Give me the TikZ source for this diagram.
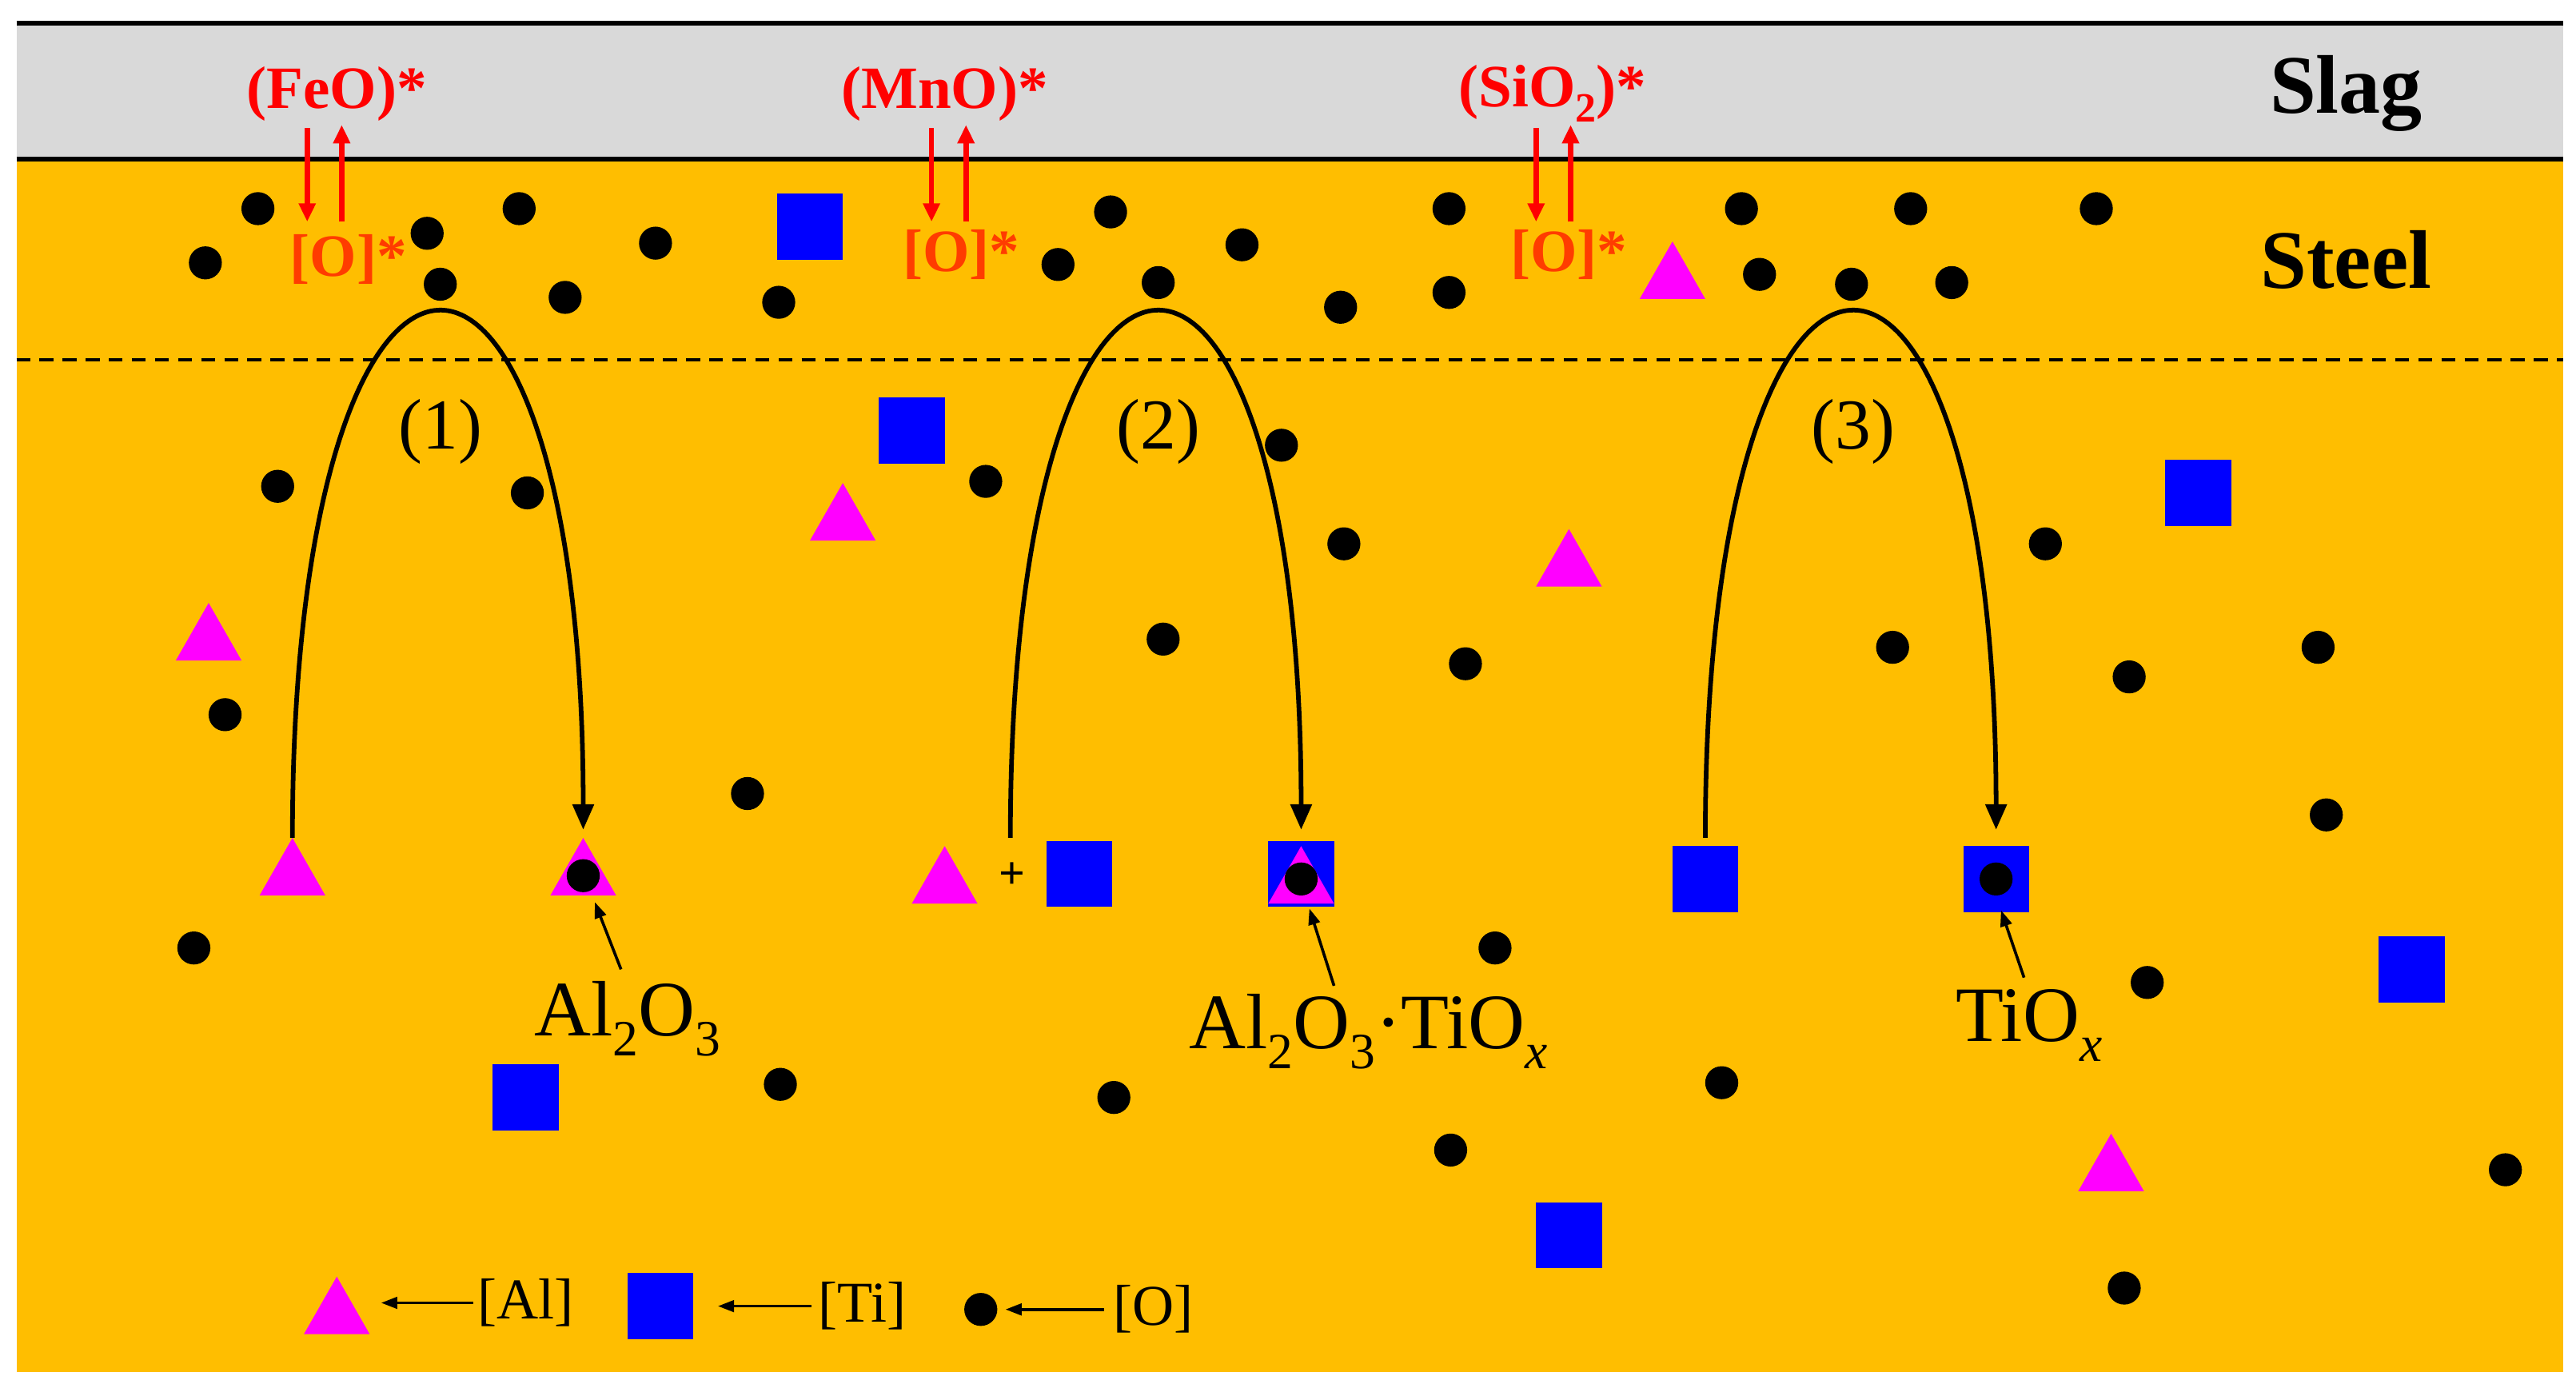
\documentclass[tikz,border=0pt]{standalone}
\usepackage{fontspec}
\setmainfont{Liberation Serif}
\usetikzlibrary{arrows.meta}
\definecolor{steel}{RGB}{255,190,0}
\definecolor{slag}{RGB}{217,217,217}
\definecolor{magc}{RGB}{255,0,255}
\definecolor{sq}{RGB}{0,0,255}
\definecolor{rd}{RGB}{255,0,0}
\definecolor{org}{RGB}{255,60,0}
\newcommand{\sbs}[1]{\raisebox{-0.25em}{\fontsize{44}{44}\selectfont #1}}
\newcommand{\sbi}[1]{\raisebox{-0.25em}{\fontsize{44}{44}\selectfont\itshape #1}}
\tikzset{
 trifill/.style={fill=magc,draw=none},
 dot/.style={circle,fill=black,minimum size=28.6pt,inner sep=0},
 sqn/.style={rectangle,fill=sq,minimum size=57pt,inner sep=0},
 redlab/.style={text=rd,font=\fontsize{52}{56}\selectfont\bfseries},
 olab/.style={text=org,font=\fontsize{52}{56}\selectfont\bfseries},
 big/.style={font=\fontsize{72}{76}\selectfont\bfseries},
 lab/.style={font=\fontsize{68}{72}\selectfont},
 leg/.style={font=\fontsize{50}{54}\selectfont},
 rar/.style={rd,line width=4.5pt,-{Triangle[length=16pt,width=14pt]}},
 arc/.style={line width=4pt,-{Triangle[length=22pt,width=18pt]}},
 sarr/.style={line width=2.5pt,-{Triangle[length=14pt,width=10pt]}},
}
\begin{document}
\begin{tikzpicture}[x=0.05cm,y=-0.05cm]
\useasboundingbox (0,0) rectangle (1568,849.7);
\fill[white] (0,0) rectangle (1568,849.7);
\fill[slag] (10,14) rectangle (1560,97);
\fill[steel] (10,97) rectangle (1560,835);
\draw[line width=4pt] (10,14) -- (1560,14);
\draw[line width=4pt] (10,97) -- (1560,97);
\draw[line width=2.5pt,dash pattern=on 12pt off 8pt] (10,219) -- (1560,219);
\node[big] (slag) at (1428,57) {Slag};
\node[big] (steel) at (1428,158) {Steel};
% red species
\node[redlab] (sa) at (205,57) {(FeO)*};
\node[redlab] (sb) at (575,57) {(MnO)*};
\node[redlab] (sc) at (945,57) {(SiO\raisebox{-0.25em}{\fontsize{36}{36}\selectfont 2})*};
\node[olab] (oa) at (212,158) {[O]*};
\node[olab] (ob) at (585,155) {[O]*};
\node[olab] (oc) at (955,155) {[O]*};
\foreach \x in {187,567,935}{
 \coordinate (d1) at (\x,78); \coordinate (d2) at (\x,135);
 \draw[rar] (d1) -- (d2);
 \coordinate (u1) at (\x+21,135); \coordinate (u2) at (\x+21,76);
 \draw[rar] (u1) -- (u2);
}
% dots
\foreach \x/\y [count=\i] in {157/127,125/160,260/142,268/173,316/127,344/181,399/148,474/184,644/161,676/129,705/172,756/149,816/187,882/127,882/178,1060/127,1071/167,1127/173,1163/127,1188/172,1276/127,169/296,321/300,137/435,455/483,118/577,475/660,600/293,780/271,818/331,708/389,892/404,910/577,678/668,883/700,1048/659,1152/394,1245/331,1296/412,1411/394,1416/496,1307/598,1525/712,1293/784}
 \node[dot] (dot\i) at (\x,\y) {};
% squares
\foreach \x/\y [count=\i] in {493/138,555/262,657/532,792/532,1038/535,1215/535,1338/300,1468/590,320/668,955/752,402/795}
 \node[sqn] (sq\i) at (\x,\y) {};
% triangles
\foreach \x/\y in {178/530,355/530,127/387,513/314,575/535,792/535,955/342,1018/167,1285/710,205/797}
 \fill[trifill] (\x-20,\y+15) -- (\x+20,\y+15) -- (\x,\y-20) -- cycle;
\node[dot] (p1) at (355,533) {};
\node[dot] (p2) at (792,535) {};
\node[dot] (p3) at (1215,535) {};
\node[dot] (legdot) at (597,797) {};
\node[font=\fontsize{40}{44}\selectfont\bfseries] (plus) at (616,533) {+};
% arcs
\foreach \a/\m/\b/\k in {178/268/355/1,615/705/792/2,1038/1128/1215/3}{
 \coordinate (st\k) at (\a,510); \coordinate (en\k) at (\b,505);
 \draw[arc] (st\k) .. controls (\a,85) and (\b,85) .. (en\k);
 \node[font=\fontsize{62}{66}\selectfont] (n\k) at (\m,263) {(\k)};
}
% labels
\node[lab] (l1) at (382,620) {Al\sbs{2}O\sbs{3}};
\node[lab] (l2) at (833,628) {Al\sbs{2}O\sbs{3}·TiO\sbi{x}};
\node[lab] (l3) at (1235,624) {TiO\sbi{x}};
\coordinate (a1) at (378,590); \coordinate (b1) at (362,549);
\coordinate (a2) at (812,600); \coordinate (b2) at (797,553);
\coordinate (a3) at (1232,595); \coordinate (b3) at (1218,554);
\draw[sarr] (a1) -- (b1); \draw[sarr] (a2) -- (b2); \draw[sarr] (a3) -- (b3);
% legend
\coordinate (la) at (288,793); \coordinate (lb) at (232,793);
\coordinate (ta) at (494,795); \coordinate (tb) at (437,795);
\coordinate (oa2) at (672,797); \coordinate (ob2) at (612,797);
\draw[sarr] (la) -- (lb); \draw[sarr] (ta) -- (tb); \draw[sarr] (oa2) -- (ob2);
\node[leg] (lal) at (320,793) {[Al]};
\node[leg] (lti) at (525,795) {[Ti]};
\node[leg] (lo) at (702,797) {[O]};
\end{tikzpicture}
\end{document}
